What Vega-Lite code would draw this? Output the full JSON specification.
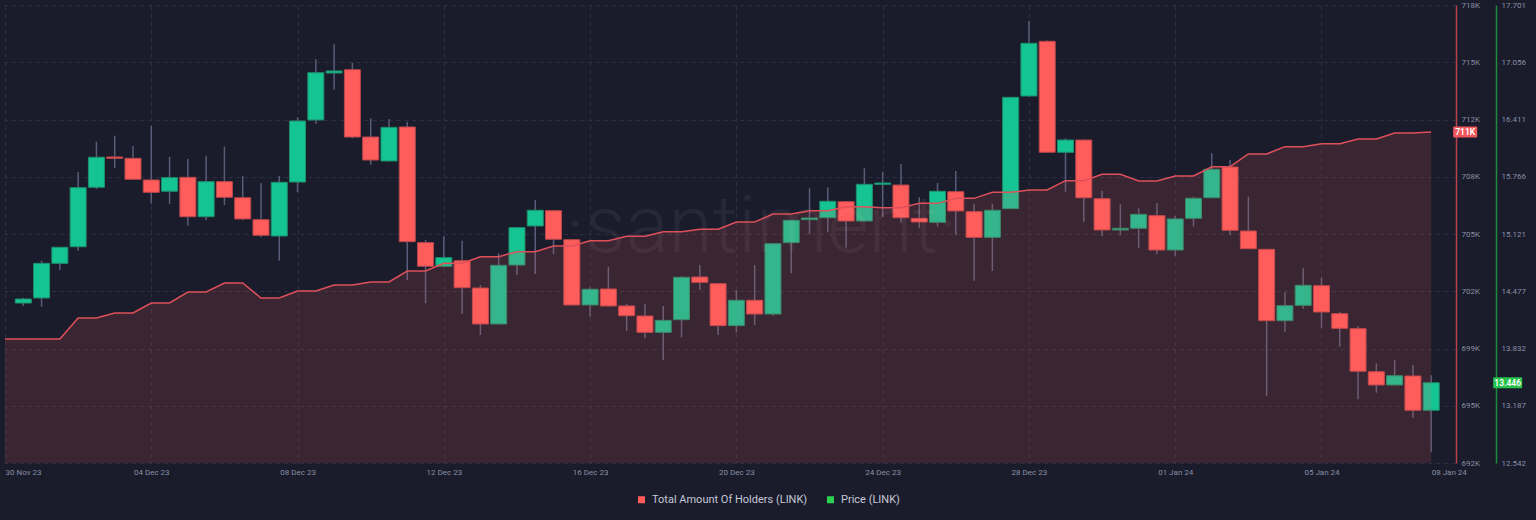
{
"$schema":"https://vega.github.io/schema/vega-lite/v6.json",
"width":1456,"height":458,
"autosize":{"type":"none"},
"padding":{"left":0,"top":5,"right":80,"bottom":57},
"background":"#1a1c2c",
"config":{"view":{"stroke":null},"font":"Roboto","axis":{"labelFont":"Roboto","labelFontSize":8,"labelColor":"#8a8ea3","ticks":false,"title":null,"gridColor":"#2d3044","gridDash":[4,4],"gridWidth":1}},
"datasets":{
"candles":[
{"t":"2023-11-30T12:00","o":14.344,"h":14.401,"l":14.310,"c":14.389},
{"t":"2023-12-01T00:00","o":14.401,"h":14.821,"l":14.303,"c":14.791},
{"t":"2023-12-01T12:00","o":14.791,"h":14.975,"l":14.716,"c":14.972},
{"t":"2023-12-02T00:00","o":14.978,"h":15.820,"l":14.933,"c":15.643},
{"t":"2023-12-02T12:00","o":15.648,"h":16.161,"l":15.628,"c":15.986},
{"t":"2023-12-03T00:00","o":15.989,"h":16.229,"l":15.862,"c":15.974},
{"t":"2023-12-03T12:00","o":15.974,"h":16.113,"l":15.730,"c":15.738},
{"t":"2023-12-04T00:00","o":15.730,"h":16.341,"l":15.463,"c":15.591},
{"t":"2023-12-04T12:00","o":15.603,"h":15.989,"l":15.459,"c":15.756},
{"t":"2023-12-05T00:00","o":15.760,"h":15.966,"l":15.215,"c":15.316},
{"t":"2023-12-05T12:00","o":15.316,"h":16.004,"l":15.279,"c":15.711},
{"t":"2023-12-06T00:00","o":15.711,"h":16.105,"l":15.448,"c":15.535},
{"t":"2023-12-06T12:00","o":15.530,"h":15.775,"l":15.279,"c":15.291},
{"t":"2023-12-07T00:00","o":15.283,"h":15.693,"l":15.084,"c":15.107},
{"t":"2023-12-07T12:00","o":15.099,"h":15.775,"l":14.821,"c":15.704},
{"t":"2023-12-08T00:00","o":15.707,"h":16.436,"l":15.591,"c":16.394},
{"t":"2023-12-08T12:00","o":16.406,"h":17.089,"l":16.364,"c":16.938},
{"t":"2023-12-09T00:00","o":16.935,"h":17.258,"l":16.747,"c":16.958},
{"t":"2023-12-09T12:00","o":16.972,"h":17.051,"l":16.200,"c":16.214},
{"t":"2023-12-10T00:00","o":16.214,"h":16.425,"l":15.902,"c":15.955},
{"t":"2023-12-10T12:00","o":15.944,"h":16.417,"l":15.936,"c":16.323},
{"t":"2023-12-11T00:00","o":16.327,"h":16.383,"l":14.603,"c":15.035},
{"t":"2023-12-11T12:00","o":15.024,"h":15.054,"l":14.341,"c":14.758},
{"t":"2023-12-12T00:00","o":14.758,"h":15.099,"l":14.746,"c":14.855},
{"t":"2023-12-12T12:00","o":14.821,"h":15.046,"l":14.220,"c":14.517},
{"t":"2023-12-13T00:00","o":14.513,"h":14.547,"l":13.984,"c":14.108},
{"t":"2023-12-13T12:00","o":14.108,"h":14.904,"l":14.100,"c":14.769},
{"t":"2023-12-14T00:00","o":14.772,"h":15.200,"l":14.660,"c":15.193},
{"t":"2023-12-14T12:00","o":15.212,"h":15.505,"l":14.671,"c":15.389},
{"t":"2023-12-15T00:00","o":15.384,"h":15.390,"l":14.896,"c":15.062},
{"t":"2023-12-15T12:00","o":15.057,"h":15.062,"l":14.320,"c":14.322},
{"t":"2023-12-16T00:00","o":14.322,"h":14.521,"l":14.190,"c":14.499},
{"t":"2023-12-16T12:00","o":14.502,"h":14.753,"l":14.303,"c":14.311},
{"t":"2023-12-17T00:00","o":14.311,"h":14.333,"l":14.029,"c":14.201},
{"t":"2023-12-17T12:00","o":14.198,"h":14.333,"l":13.947,"c":14.014},
{"t":"2023-12-18T00:00","o":14.014,"h":14.311,"l":13.702,"c":14.149},
{"t":"2023-12-18T12:00","o":14.156,"h":14.648,"l":13.958,"c":14.634},
{"t":"2023-12-19T00:00","o":14.637,"h":14.772,"l":14.491,"c":14.577},
{"t":"2023-12-19T12:00","o":14.562,"h":14.565,"l":13.984,"c":14.089},
{"t":"2023-12-20T00:00","o":14.089,"h":14.491,"l":14.014,"c":14.375},
{"t":"2023-12-20T12:00","o":14.375,"h":14.772,"l":14.097,"c":14.220},
{"t":"2023-12-21T00:00","o":14.220,"h":15.020,"l":14.201,"c":15.012},
{"t":"2023-12-21T12:00","o":15.024,"h":15.279,"l":14.679,"c":15.276},
{"t":"2023-12-22T00:00","o":15.283,"h":15.636,"l":15.122,"c":15.302},
{"t":"2023-12-22T12:00","o":15.305,"h":15.648,"l":15.141,"c":15.490},
{"t":"2023-12-23T00:00","o":15.485,"h":15.490,"l":14.967,"c":15.268},
{"t":"2023-12-23T12:00","o":15.268,"h":15.862,"l":15.260,"c":15.681},
{"t":"2023-12-24T00:00","o":15.681,"h":15.823,"l":15.316,"c":15.696},
{"t":"2023-12-24T12:00","o":15.673,"h":15.910,"l":15.249,"c":15.305},
{"t":"2023-12-25T00:00","o":15.298,"h":15.535,"l":15.186,"c":15.257},
{"t":"2023-12-25T12:00","o":15.253,"h":15.696,"l":15.204,"c":15.603},
{"t":"2023-12-26T00:00","o":15.598,"h":15.831,"l":15.110,"c":15.381},
{"t":"2023-12-26T12:00","o":15.373,"h":15.459,"l":14.596,"c":15.084},
{"t":"2023-12-27T00:00","o":15.084,"h":15.459,"l":14.705,"c":15.389},
{"t":"2023-12-27T12:00","o":15.407,"h":16.665,"l":15.400,"c":16.661},
{"t":"2023-12-28T00:00","o":16.676,"h":17.521,"l":16.670,"c":17.270},
{"t":"2023-12-28T12:00","o":17.292,"h":17.300,"l":16.035,"c":16.042},
{"t":"2023-12-29T00:00","o":16.042,"h":16.200,"l":15.598,"c":16.180},
{"t":"2023-12-29T12:00","o":16.180,"h":16.185,"l":15.260,"c":15.530},
{"t":"2023-12-30T00:00","o":15.519,"h":15.606,"l":15.099,"c":15.167},
{"t":"2023-12-30T12:00","o":15.167,"h":15.456,"l":15.107,"c":15.186},
{"t":"2023-12-31T00:00","o":15.186,"h":15.411,"l":14.967,"c":15.343},
{"t":"2023-12-31T12:00","o":15.328,"h":15.467,"l":14.893,"c":14.941},
{"t":"2024-01-01T00:00","o":14.941,"h":15.324,"l":14.874,"c":15.291},
{"t":"2024-01-01T12:00","o":15.298,"h":15.542,"l":15.204,"c":15.524},
{"t":"2024-01-02T00:00","o":15.530,"h":16.031,"l":15.524,"c":15.850},
{"t":"2024-01-02T12:00","o":15.876,"h":15.955,"l":15.110,"c":15.163},
{"t":"2024-01-03T00:00","o":15.155,"h":15.542,"l":14.950,"c":14.956},
{"t":"2024-01-03T12:00","o":14.949,"h":14.955,"l":13.300,"c":14.145},
{"t":"2024-01-04T00:00","o":14.145,"h":14.465,"l":14.021,"c":14.314},
{"t":"2024-01-04T12:00","o":14.318,"h":14.735,"l":14.280,"c":14.544},
{"t":"2024-01-05T00:00","o":14.539,"h":14.634,"l":14.066,"c":14.243},
{"t":"2024-01-05T12:00","o":14.224,"h":14.243,"l":13.852,"c":14.059},
{"t":"2024-01-06T00:00","o":14.055,"h":14.085,"l":13.260,"c":13.575},
{"t":"2024-01-06T12:00","o":13.570,"h":13.665,"l":13.334,"c":13.421},
{"t":"2024-01-07T00:00","o":13.421,"h":13.702,"l":13.417,"c":13.525},
{"t":"2024-01-07T12:00","o":13.522,"h":13.646,"l":13.052,"c":13.136},
{"t":"2024-01-08T00:00","o":13.136,"h":13.530,"l":12.663,"c":13.446}
],
"holders":[
{"t":"2023-11-30T00:00","h":699039},{"t":"2023-11-30T12:00","h":699039},
{"t":"2023-12-01T00:00","h":699039},{"t":"2023-12-01T12:00","h":699039},
{"t":"2023-12-02T00:00","h":700232},{"t":"2023-12-02T12:00","h":700232},
{"t":"2023-12-03T00:00","h":700516},{"t":"2023-12-03T12:00","h":700516},
{"t":"2023-12-04T00:00","h":701083},{"t":"2023-12-04T12:00","h":701083},
{"t":"2023-12-05T00:00","h":701708},{"t":"2023-12-05T12:00","h":701708},
{"t":"2023-12-06T00:00","h":702219},{"t":"2023-12-06T12:00","h":702219},
{"t":"2023-12-07T00:00","h":701367},{"t":"2023-12-07T12:00","h":701367},
{"t":"2023-12-08T00:00","h":701765},{"t":"2023-12-08T12:00","h":701765},
{"t":"2023-12-09T00:00","h":702105},{"t":"2023-12-09T12:00","h":702105},
{"t":"2023-12-10T00:00","h":702275},{"t":"2023-12-10T12:00","h":702275},
{"t":"2023-12-11T00:00","h":702900},{"t":"2023-12-11T12:00","h":702900},
{"t":"2023-12-12T00:00","h":703340},{"t":"2023-12-12T12:00","h":703340},
{"t":"2023-12-13T00:00","h":703712},{"t":"2023-12-13T12:00","h":703712},
{"t":"2023-12-14T00:00","h":703996},{"t":"2023-12-14T12:00","h":703996},
{"t":"2023-12-15T00:00","h":704319},{"t":"2023-12-15T12:00","h":704319},
{"t":"2023-12-16T00:00","h":704620},{"t":"2023-12-16T12:00","h":704620},
{"t":"2023-12-17T00:00","h":704870},{"t":"2023-12-17T12:00","h":704870},
{"t":"2023-12-18T00:00","h":705131},{"t":"2023-12-18T12:00","h":705131},
{"t":"2023-12-19T00:00","h":705267},{"t":"2023-12-19T12:00","h":705267},
{"t":"2023-12-20T00:00","h":705681},{"t":"2023-12-20T12:00","h":705681},
{"t":"2023-12-21T00:00","h":706130},{"t":"2023-12-21T12:00","h":706130},
{"t":"2023-12-22T00:00","h":706323},{"t":"2023-12-22T12:00","h":706323},
{"t":"2023-12-23T00:00","h":706550},{"t":"2023-12-23T12:00","h":706550},
{"t":"2023-12-24T00:00","h":706494},{"t":"2023-12-24T12:00","h":706494},
{"t":"2023-12-25T00:00","h":706740},{"t":"2023-12-25T12:00","h":706740},
{"t":"2023-12-26T00:00","h":707024},{"t":"2023-12-26T12:00","h":707024},
{"t":"2023-12-27T00:00","h":707364},{"t":"2023-12-27T12:00","h":707364},
{"t":"2023-12-28T00:00","h":707500},{"t":"2023-12-28T12:00","h":707500},
{"t":"2023-12-29T00:00","h":708026},{"t":"2023-12-29T12:00","h":708026},
{"t":"2023-12-30T00:00","h":708390},{"t":"2023-12-30T12:00","h":708390},
{"t":"2023-12-31T00:00","h":708009},{"t":"2023-12-31T12:00","h":708009},
{"t":"2024-01-01T00:00","h":708293},{"t":"2024-01-01T12:00","h":708293},
{"t":"2024-01-02T00:00","h":708820},{"t":"2024-01-02T12:00","h":708820},
{"t":"2024-01-03T00:00","h":709542},{"t":"2024-01-03T12:00","h":709542},
{"t":"2024-01-04T00:00","h":709958},{"t":"2024-01-04T12:00","h":709958},
{"t":"2024-01-05T00:00","h":710128},{"t":"2024-01-05T12:00","h":710128},
{"t":"2024-01-06T00:00","h":710394},{"t":"2024-01-06T12:00","h":710394},
{"t":"2024-01-07T00:00","h":710735},{"t":"2024-01-07T12:00","h":710735},
{"t":"2024-01-08T00:00","h":710792}
],
"series":[{"s":"Total Amount Of Holders (LINK)"},{"s":"Price (LINK)"}]
},
"encoding":{"x":{"field":"t","type":"temporal",
  "scale":{"domain":[{"year":2023,"month":11,"date":30},{"year":2024,"month":1,"date":8,"hours":13}]},
  "axis":{"values":[{"year":2023,"month":11,"date":30},{"year":2023,"month":12,"date":4},{"year":2023,"month":12,"date":8},{"year":2023,"month":12,"date":12},{"year":2023,"month":12,"date":16},{"year":2023,"month":12,"date":20},{"year":2023,"month":12,"date":24},{"year":2023,"month":12,"date":28},{"year":2024,"month":1,"date":1},{"year":2024,"month":1,"date":5},{"year":2024,"month":1,"date":8}],
   "format":"%d %b %y","domain":false,"grid":true,"labelPadding":5,"labelFlush":false,"labelOverlap":false,"labelBaseline":"top",
   "labelAlign":{"condition":{"test":"datum.value < datetime(2023,11,1) || datum.value > datetime(2024,0,7)","value":"left"},"value":"center"},
   "gridOpacity":{"condition":{"test":"datum.value > datetime(2024,0,7)","value":0},"value":1}}}},
"layer":[
 {"data":{"name":"candles"},"layer":[
  {"mark":{"type":"rule","color":"#585d78","strokeWidth":1.5},
   "encoding":{"y":{"field":"l","type":"quantitative","scale":{"domain":[12.542,17.701],"nice":false,"zero":false},
     "axis":{"orient":"right","values":[12.542,13.187,13.832,14.477,15.121,15.766,16.411,17.056,17.701],"format":".3f","domain":true,"domainColor":"#1e8a3c","domainWidth":1.5,"offset":40,"labelPadding":5,"grid":false,"labelAlign":"left","labelBaseline":"middle"}},
    "y2":{"field":"h"}}},
  {"mark":{"type":"bar","size":16,"strokeWidth":1},
   "encoding":{"y":{"field":"o","type":"quantitative","scale":{"domain":[12.542,17.701],"nice":false,"zero":false}},
    "y2":{"field":"c"},
    "fill":{"condition":{"test":"datum.c >= datum.o","value":"#14c493"},"value":"#ff5c5c"},
    "stroke":{"condition":{"test":"datum.c >= datum.o","value":"#1f8f6b"},"value":"#b9484b"}}},
  {"transform":[{"filter":"datum.c == 14.22"}],
   "mark":{"type":"text","text":"·santiment·","fontSize":80,"fontWeight":300,"color":"#ffffff","opacity":0.05,"align":"center","baseline":"alphabetic","xOffset":7},
   "encoding":{"y":{"datum":14.919,"type":"quantitative","scale":{"domain":[12.542,17.701],"nice":false,"zero":false}}}},
  {"transform":[{"filter":"datum.c == 13.446"}],
   "mark":{"type":"rect","fill":"#26c24b","xOffset":62,"x2Offset":91,"yOffset":-5.5,"y2Offset":5.5,"cornerRadius":1},
   "encoding":{"x2":{"field":"t"},
    "y":{"field":"c","type":"quantitative","scale":{"domain":[12.542,17.701],"nice":false,"zero":false}},"y2":{"field":"c"}}},
  {"transform":[{"filter":"datum.c == 13.446"}],
   "mark":{"type":"text","color":"#ffffff","fontSize":8.5,"fontWeight":600,"align":"center","baseline":"middle","xOffset":76.5},
   "encoding":{"y":{"field":"c","type":"quantitative","scale":{"domain":[12.542,17.701],"nice":false,"zero":false}},
    "text":{"field":"c","type":"quantitative","format":".3f"}}}
 ]},
 {"data":{"name":"holders"},"layer":[
  {"mark":{"type":"area","fill":"#ff5b5b","fillOpacity":0.14},
   "encoding":{"y":{"field":"h","type":"quantitative","scale":{"domain":[692000,718000],"nice":false,"zero":false},
     "axis":{"orient":"right","values":[692000,695250,698500,701750,705000,708250,711500,714750,718000],"labelExpr":"format(datum.value/1000,'.0f')+'K'","domain":true,"domainColor":"#b8404a","domainWidth":1.5,"offset":0,"labelPadding":5,"grid":true,"labelAlign":"left","labelBaseline":"middle"}},
    "y2":{"datum":692000}}},
  {"mark":{"type":"line","color":"#e0505a","strokeWidth":1.5},
   "encoding":{"y":{"field":"h","type":"quantitative","scale":{"domain":[692000,718000],"nice":false,"zero":false}}}},
  {"transform":[{"filter":"datum.h == 710792"}],
   "mark":{"type":"rect","fill":"#f0575d","xOffset":22,"x2Offset":46,"yOffset":-5.5,"y2Offset":5.5,"cornerRadius":1},
   "encoding":{"x2":{"field":"t"},
    "y":{"field":"h","type":"quantitative","scale":{"domain":[692000,718000],"nice":false,"zero":false}},"y2":{"field":"h"}}},
  {"transform":[{"filter":"datum.h == 710792"}],
   "mark":{"type":"text","color":"#ffffff","fontSize":8.5,"fontWeight":600,"align":"center","baseline":"middle","xOffset":34},
   "encoding":{"y":{"field":"h","type":"quantitative","scale":{"domain":[692000,718000],"nice":false,"zero":false}},
    "text":{"value":"711K"}}}
 ]},
 {"data":{"name":"series"},
  "mark":{"type":"square","size":0,"opacity":0},
  "encoding":{"fill":{"field":"s","type":"nominal",
    "scale":{"domain":["Total Amount Of Holders (LINK)","Price (LINK)"],"range":["#ff5b5b","#2bd150"]},
    "legend":{"orient":"none","legendX":636,"legendY":489,"direction":"horizontal","title":null,"symbolType":"square","symbolSize":49,"symbolOpacity":1,"symbolStrokeWidth":0,"labelFont":"Roboto","labelFontSize":11,"labelColor":"#c5c8d6","columnPadding":17,"labelOffset":5}}}}
],
"resolve":{"scale":{"y":"independent"}}
}
